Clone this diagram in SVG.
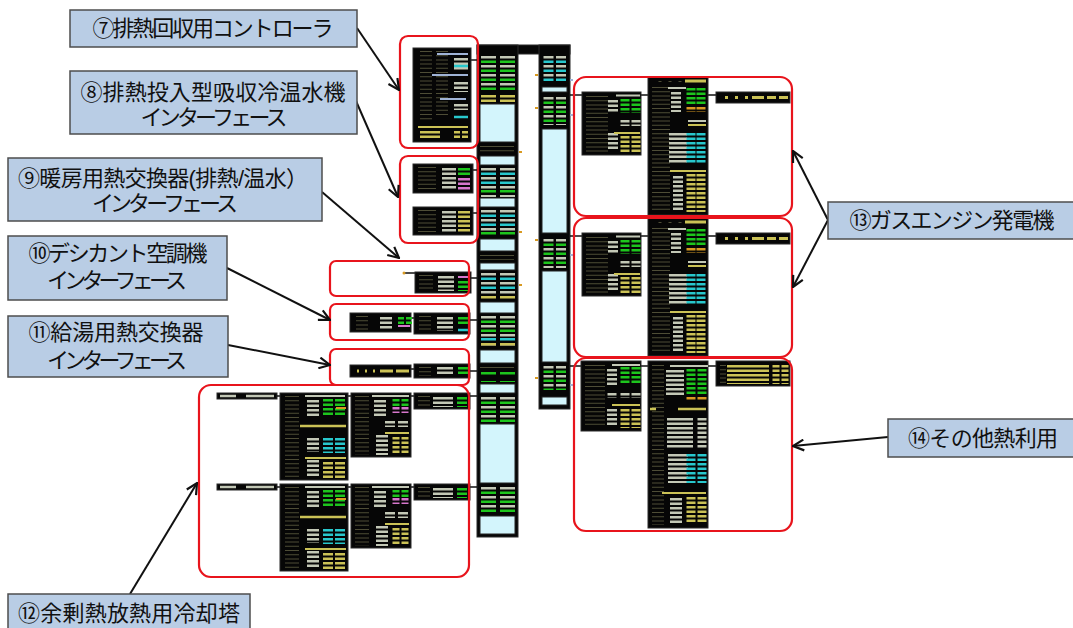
<svg xmlns="http://www.w3.org/2000/svg" xmlns:xlink="http://www.w3.org/1999/xlink" width="1073" height="628" viewBox="0 0 1073 628">
<defs>
<style>
.lbl{fill:#b9cde5;stroke:#4d4d4d;stroke-width:1.5}
.t{font-family:"Liberation Sans","Noto Sans CJK JP",sans-serif;font-size:22px;fill:#111;text-anchor:middle;dominant-baseline:central}
.rb{fill:none;stroke:#e8141c;stroke-width:2.2}
.b{fill:#060606;stroke:#2a2a2a;stroke-width:1}
.cp{fill:#d3f5fc;stroke:#222;stroke-width:1}
.d{fill:none;stroke-dasharray:2.5 2}
.d9{fill:none;stroke-dasharray:2.5 6.5}
.dt{fill:none;stroke-dasharray:1 3.2;stroke:#4e4d36}
.G{stroke:#1dc51d}.C{stroke:#28c8cd}.Y{stroke:#cbc256}.W{stroke:#c3c8b6}.P{stroke:#d676cc}.O{stroke:#d89a22}.B{stroke:#9fb3d6}
.ar{fill:none;stroke:#111;stroke-width:2;marker-end:url(#ah)}
.cn{fill:none;stroke:#111;stroke-width:1.5}
</style>
<marker id="ah" viewBox="0 0 12 12" refX="11" refY="6" markerWidth="13" markerHeight="13" markerUnits="userSpaceOnUse" orient="auto"><path d="M1 1L11 6L1 11" fill="none" stroke="#111" stroke-width="2"/></marker>
<g id="eng">
 <path class="cn" d="M570 95H582M641 95H648M708 95H716"/>
 <rect class="b" x="582" y="92" width="59" height="63"/>
 <path class="dt" d="M597 96V152" stroke-width="22"/>
 <path class="W" d="M616 95.5H640" stroke-width="2"/>
 <path class="d W" d="M613 100V112M613 133V151" stroke-width="10"/>
 <path class="d G" d="M625 99V113M636 99V113" stroke-width="9"/>
 <path class="d W" d="M625 120V126M636 120V126" stroke-width="9"/>
 <path class="Y" d="M614 133H640" stroke-width="2"/>
 <path class="d Y" d="M625 136V152M636 136V152" stroke-width="9"/>
 <rect class="b" x="648" y="77" width="60" height="138"/>
 <path class="dt" d="M660 81V82M670 81V82M680 81V82" stroke-width="3"/>
 <path class="Y" d="M685 81H706" stroke-width="3"/>
 <path class="dt" d="M661 87V212" stroke-width="18"/>
 <path class="W" d="M668 88H686" stroke-width="2"/>
 <path class="d W" d="M676 92V112" stroke-width="10"/>
 <path class="d G" d="M691 88V106M701 88V106" stroke-width="9"/>
 <path class="d O" d="M691 107V112M701 107V112" stroke-width="9"/>
 <path class="W" d="M688 121H706" stroke-width="2"/>
 <path class="Y" d="M688 125H706" stroke-width="2"/>
 <path class="d W" d="M678 133V163" stroke-width="18"/>
 <path class="d C" d="M691 133V163M701 133V163" stroke-width="9"/>
 <path class="Y" d="M670 171H706" stroke-width="2"/>
 <path class="d W" d="M678 176V212" stroke-width="10"/>
 <path class="d Y" d="M691 174V212M701 174V212" stroke-width="9"/>
 <rect class="b" x="716" y="92" width="74" height="11"/>
 <path class="Y" d="M725 97.5H728M735 97.5H738M745 97.5H748" stroke-width="3"/>
 <path class="Y" d="M752 97.5H764M767 97.5H776M779 97.5H788" stroke-width="3"/>
</g>
<g id="ct">
 <rect class="b" x="217" y="393" width="60" height="6"/>
 <path class="W" d="M220 396H236M246 396H274" stroke-width="2.5"/>
 <path class="cn" d="M277 396H280M348 396H351M411 396H414M470 396H477"/>
 <rect class="b" x="280" y="393" width="68" height="87"/>
 <path class="dt" d="M292 396V478" stroke-width="14"/>
 <path class="W" d="M305 396H345" stroke-width="2"/>
 <path class="d W" d="M313 400V416M313 438V452M313 460V477" stroke-width="12"/>
 <path class="d G" d="M328 399V417M340 399V417" stroke-width="10"/>
 <path class="O" d="M336 408H346" stroke-width="2"/>
 <path class="Y" d="M300 426H346" stroke-width="2.5"/>
 <path class="d C" d="M328 438V453M340 438V453" stroke-width="10"/>
 <path class="Y" d="M305 458H346" stroke-width="2"/>
 <path class="d Y" d="M328 462V478M340 462V478" stroke-width="10"/>
 <rect class="b" x="351" y="393" width="60" height="64"/>
 <path class="dt" d="M362 396V455" stroke-width="14"/>
 <path class="W" d="M372 396H409" stroke-width="2"/>
 <path class="d W" d="M380 400V416M382 435V455" stroke-width="12"/>
 <path class="d G" d="M396 399V406M405 399V406" stroke-width="7"/>
 <path class="d P" d="M396 407V413M405 407V413" stroke-width="7"/>
 <path class="d W" d="M390 421V427M403 421V427" stroke-width="10"/>
 <path class="Y" d="M385 433H409" stroke-width="2"/>
 <path class="d Y" d="M396 437V455M405 437V455" stroke-width="7"/>
 <rect class="b" x="414" y="393" width="56" height="16"/>
 <path class="dt" d="M424 396V407" stroke-width="12"/>
 <path class="d W" d="M443 397V407" stroke-width="20"/>
 <path class="d G" d="M462 397V407" stroke-width="10"/>
</g>
</defs>
<rect width="1073" height="628" fill="#fff"/>

<g id="panel-columns">
 <rect class="b" x="477" y="45" width="93" height="9"/>
 <rect class="b" x="477" y="45" width="41" height="492"/>
 <rect class="b" x="539" y="45" width="31" height="364"/>
 <path class="d9 W" d="M488.5 56V90M507.5 56V90" stroke-width="15"/>
 <path class="d9 G" d="M488.5 60.5V90M507.5 60.5V90" stroke-width="15"/>
 <path class="d Y" d="M488.5 95V103M507.5 95V103" stroke-width="15"/>
 <rect class="cp" x="480" y="104" width="35" height="38"/>
 <path class="dt" d="M497 146V153" stroke-width="34"/>
 <rect class="cp" x="480" y="156" width="35" height="9"/>
 <path class="d9 W" d="M488.5 168V197M507.5 168V197" stroke-width="15"/>
 <path class="d9 C" d="M488.5 172.5V186M507.5 172.5V186" stroke-width="15"/>
 <path class="d9 G" d="M488.5 190V197M507.5 190V197" stroke-width="15"/>
 <rect class="cp" x="480" y="198" width="35" height="9"/>
 <path class="d9 W" d="M488.5 210V237M507.5 210V237" stroke-width="15"/>
 <path class="d9 C" d="M488.5 214.5V228M507.5 214.5V228" stroke-width="15"/>
 <path class="d9 G" d="M488.5 232V237M507.5 232V237" stroke-width="15"/>
 <rect class="cp" x="480" y="239" width="35" height="12"/>
 <path class="dt" d="M497 255V260" stroke-width="34"/>
 <rect class="cp" x="480" y="263" width="35" height="7"/>
 <path class="d9 W" d="M488.5 273V300M507.5 273V300" stroke-width="15"/>
 <path class="d9 C" d="M488.5 277.5V292M507.5 277.5V292" stroke-width="15"/>
 <path class="d9 Y" d="M488.5 296V300M507.5 296V300" stroke-width="15"/>
 <rect class="cp" x="480" y="302" width="35" height="11"/>
 <path class="d9 W" d="M488.5 316V348M507.5 316V348" stroke-width="15"/>
 <path class="d9 G" d="M488.5 320.5V335M507.5 320.5V335" stroke-width="15"/>
 <path class="d9 C" d="M488.5 338V340.5M507.5 338V340.5" stroke-width="15"/>
 <path class="d9 Y" d="M488.5 343V345.5M507.5 343V345.5" stroke-width="15"/>
 <rect class="cp" x="480" y="350" width="35" height="13"/>
 <path class="dt" d="M497 367V369" stroke-width="34"/>
 <path class="d9 G" d="M488.5 372V382M507.5 372V382" stroke-width="15"/>
 <rect class="cp" x="480" y="384" width="35" height="9"/>
 <path class="d9 W" d="M488.5 397V422M507.5 397V422" stroke-width="15"/>
 <path class="d9 G" d="M488.5 401.5V422M507.5 401.5V422" stroke-width="15"/>
 <rect class="cp" x="480" y="424" width="35" height="59"/>
 <path class="d9 W" d="M488.5 487V513M507.5 487V513" stroke-width="15"/>
 <path class="d9 G" d="M488.5 491.5V513M507.5 491.5V513" stroke-width="15"/>
 <rect class="cp" x="480" y="516" width="35" height="18"/>
 <path class="d9 W" d="M548.5 56V83M561 56V83" stroke-width="10"/>
 <path class="d9 C" d="M548.5 60.5V83M561 60.5V83" stroke-width="10"/>
 <rect class="cp" x="542" y="87" width="25" height="5"/>
 <path class="d9 W" d="M548.5 97V125M561 97V125" stroke-width="10"/>
 <path class="d9 G" d="M548.5 101.5V125M561 101.5V125" stroke-width="10"/>
 <rect class="cp" x="542" y="129" width="25" height="104"/>
 <path class="d9 W" d="M548.5 239V268M561 239V268" stroke-width="10"/>
 <path class="d9 G" d="M548.5 243.5V268M561 243.5V268" stroke-width="10"/>
 <rect class="cp" x="542" y="271" width="25" height="91"/>
 <path class="d9 W" d="M548.5 366V390M561 366V390" stroke-width="10"/>
 <path class="d9 G" d="M548.5 370.5V390M561 370.5V390" stroke-width="10"/>
 <rect class="cp" x="542" y="397" width="25" height="8"/>
 <path class="O" d="M535 75h3M535 108h3M535 240h3M535 378h3M519 152h3M519 232h3M519 285h3" stroke-width="2"/>
 <path class="B" d="M570 80h3M570 115h3M570 255h3M570 385h3" stroke-width="2"/>
</g>

<g id="controller-7">
 <path class="cn" d="M471 60H477"/>
 <rect class="b" x="413" y="48" width="58" height="94"/>
 <path class="dt" d="M426 51V122M442 51V118" stroke-width="12"/>
 <path class="B" d="M437 54H468M432 75H468M440 99H466" stroke-width="2"/>
 <path class="d W" d="M461 58V70M461 82V92M461 104V110" stroke-width="14"/>
 <path class="C" d="M454 66H468M454 117H468" stroke-width="2.5"/>
 <path class="Y" d="M418 127H468" stroke-width="2"/>
 <path class="d Y" d="M430 131V140" stroke-width="20"/>
 <path class="d Y" d="M457 131V140M465 131V140" stroke-width="6"/>
</g>

<g id="absorption-chiller-8">
 <path class="cn" d="M473 170H477M473 213H477"/>
 <rect class="b" x="413" y="164" width="60" height="29"/>
 <path class="dt" d="M427 167V191" stroke-width="18"/>
 <path class="d W" d="M449 168V190" stroke-width="14"/>
 <path class="d G" d="M464 168V176" stroke-width="12"/>
 <path class="d P" d="M464 178V190" stroke-width="12"/>
 <rect class="b" x="413" y="207" width="60" height="28"/>
 <path class="dt" d="M427 210V233" stroke-width="18"/>
 <path class="d W" d="M449 211V233" stroke-width="14"/>
 <path class="d Y" d="M464 211V233" stroke-width="12"/>
</g>

<g id="heating-hex-9">
 <path class="cn" d="M471 278H477M404 273H415"/>
 <circle cx="404" cy="273" r="1.5" fill="#d89a22"/>
 <rect class="b" x="415" y="272" width="56" height="21"/>
 <path class="dt" d="M426 275V291" stroke-width="14"/>
 <path class="d W" d="M446 276V291" stroke-width="16"/>
 <path class="P" d="M458 277H469" stroke-width="2"/>
 <path class="d G" d="M463 281V291" stroke-width="10"/>
</g>

<g id="desiccant-10">
 <path class="cn" d="M411 318H414M470 320H477"/>
 <rect class="b" x="350" y="313" width="61" height="19"/>
 <path class="dt" d="M362 316V330" stroke-width="12"/>
 <path class="d W" d="M386 317V330" stroke-width="12"/>
 <path class="d G" d="M401 317V325M409 317V325" stroke-width="6"/>
 <path class="P" d="M398 326H410" stroke-width="2"/>
 <rect class="b" x="414" y="313" width="56" height="21"/>
 <path class="dt" d="M425 316V332" stroke-width="12"/>
 <path class="d W" d="M445 317V331" stroke-width="16"/>
 <path class="d G" d="M463 317V326" stroke-width="10"/>
 <path class="C" d="M458 330H469" stroke-width="2.5"/>
</g>

<g id="hot-water-hex-11">
 <path class="cn" d="M411 369H414M470 371H477"/>
 <rect class="b" x="350" y="365" width="61" height="12"/>
 <path class="Y" d="M357 371H359M365 371H367M373 371H375M380 371H393M396 371H409" stroke-width="3"/>
 <rect class="b" x="414" y="364" width="56" height="14"/>
 <path class="dt" d="M425 367V376" stroke-width="12"/>
 <path class="d W" d="M445 367V376" stroke-width="16"/>
 <path class="d G" d="M463 367V376" stroke-width="10"/>
</g>

<g id="cooling-tower-12">
 <use xlink:href="#ct" href="#ct"/>
 <use xlink:href="#ct" href="#ct" y="91"/>
</g>

<g id="gas-engine-13a"><use xlink:href="#eng" href="#eng"/></g>
<g id="gas-engine-13b"><use xlink:href="#eng" href="#eng" y="141"/></g>

<g id="other-heat-14">
 <path class="cn" d="M570 366H582M641 366H648M708 366H716"/>
 <rect class="b" x="581" y="361" width="60" height="70"/>
 <path class="dt" d="M595 365V428" stroke-width="20"/>
 <path class="W" d="M612 365H640" stroke-width="2"/>
 <path class="d W" d="M612 369V385" stroke-width="10"/>
 <path class="d G" d="M625 367V385M636 367V385" stroke-width="9"/>
 <path class="d W" d="M612 393V398M625 393V398M636 393V398" stroke-width="9"/>
 <path class="Y" d="M612 405H640" stroke-width="2"/>
 <path class="d W" d="M612 409V427" stroke-width="10"/>
 <path class="d Y" d="M625 409V428M636 409V428" stroke-width="9"/>
 <rect class="b" x="648" y="361" width="60" height="167"/>
 <path class="dt" d="M658 365V525" stroke-width="12"/>
 <path class="W" d="M670 366H708" stroke-width="2"/>
 <path class="d W" d="M675 370V396" stroke-width="18"/>
 <path class="d G" d="M691 369V395M702 369V395" stroke-width="9"/>
 <path class="d O" d="M691 397V400M702 397V400" stroke-width="9"/>
 <path class="Y" d="M650 409H656M678 409H706" stroke-width="2.5"/>
 <path class="d W" d="M680 418V448" stroke-width="26"/>
 <path class="d W" d="M702 418V448" stroke-width="9"/>
 <path class="d W" d="M678 454V483" stroke-width="20"/>
 <path class="d C" d="M691 454V483M702 454V483" stroke-width="9"/>
 <path class="Y" d="M662 493H706" stroke-width="2"/>
 <path class="d W" d="M676 498V524" stroke-width="12"/>
 <path class="d Y" d="M691 497V524M702 497V524" stroke-width="9"/>
 <rect class="b" x="716" y="361" width="74" height="25"/>
 <path class="dt" d="M723 365V384" stroke-width="6"/>
 <path class="d Y" d="M748 365V384" stroke-width="42"/>
 <path class="d Y" d="M776 365V384M785 365V384" stroke-width="7"/>
</g>

<g id="red-frames">
 <rect class="rb" x="400" y="36" width="78" height="112" rx="8"/>
 <rect class="rb" x="400" y="156" width="78" height="87" rx="8"/>
 <rect class="rb" x="330" y="261" width="139" height="35" rx="6"/>
 <rect class="rb" x="330" y="304" width="139" height="36" rx="6"/>
 <rect class="rb" x="330" y="349" width="139" height="36" rx="6"/>
 <rect class="rb" x="199" y="385" width="270" height="192" rx="12"/>
 <rect class="rb" x="574" y="77" width="218" height="139" rx="12"/>
 <rect class="rb" x="574" y="218" width="218" height="139" rx="12"/>
 <rect class="rb" x="574" y="358" width="218" height="173" rx="12"/>
</g>

<g id="connectors">
 <path class="ar" d="M357 28L399 90"/>
 <path class="ar" d="M356 101L398 197"/>
 <path class="ar" d="M322 192L399 258"/>
 <path class="ar" d="M227 268L330 320"/>
 <path class="ar" d="M228 345L330 365"/>
 <path class="ar" d="M130 594L197 483"/>
 <path class="ar" d="M828 220L793 151"/>
 <path class="ar" d="M828 220L793 287"/>
 <path class="ar" d="M888 437L793 446"/>
</g>

<g id="label-7"><rect class="lbl" x="70" y="10" width="287" height="37"/><text class="t" x="213" y="28" textLength="241">⑦排熱回収用コントローラ</text></g>
<g id="label-8"><rect class="lbl" x="70" y="71" width="287" height="63"/><text class="t" x="213" y="92" textLength="265">⑧排熱投入型吸収冷温水機</text><text class="t" x="214" y="117" textLength="147">インターフェース</text></g>
<g id="label-9"><rect class="lbl" x="8" y="158" width="314" height="63"/><text class="t" x="163" y="178" textLength="290">⑨暖房用熱交換器(排熱/温水）</text><text class="t" x="165" y="203" textLength="146">インターフェース</text></g>
<g id="label-10"><rect class="lbl" x="8" y="236" width="219" height="64"/><text class="t" x="118" y="253" textLength="179">⑩デシカント空調機</text><text class="t" x="117" y="280" textLength="140">インターフェース</text></g>
<g id="label-11"><rect class="lbl" x="8" y="316" width="220" height="61"/><text class="t" x="116" y="332" textLength="175">⑪給湯用熱交換器</text><text class="t" x="117" y="360" textLength="140">インターフェース</text></g>
<g id="label-12"><rect class="lbl" x="8" y="594" width="242" height="44"/><text class="t" x="129" y="613" textLength="222">⑫余剰熱放熱用冷却塔</text></g>
<g id="label-13"><rect class="lbl" x="828" y="202" width="250" height="37"/><text class="t" x="952" y="220" textLength="205">⑬ガスエンジン発電機</text></g>
<g id="label-14"><rect class="lbl" x="888" y="419" width="190" height="38"/><text class="t" x="983" y="438" textLength="150">⑭その他熱利用</text></g>
</svg>
